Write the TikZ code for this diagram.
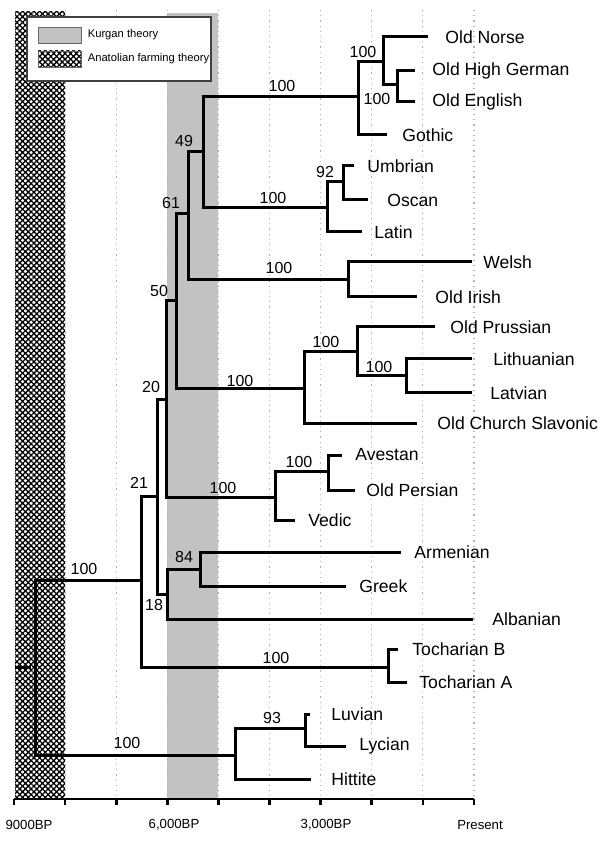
\documentclass[tikz,border=0pt]{standalone}
\usepackage{fontspec}
\setmainfont{Liberation Sans}
\usetikzlibrary{positioning,patterns.meta}
\definecolor{kurgan}{gray}{0.76}
\tikzset{
  branch/.style={line width=1.5pt},
  leaf/.style={font=\fontsize{8.8}{10}\selectfont, inner sep=0pt},
  boot/.style={font=\fontsize{8}{9}\selectfont, inner sep=0pt},
  ticklab/.style={font=\fontsize{6.6}{8}\selectfont, inner sep=0pt},
  legtext/.style={font=\fontsize{5.6}{7}\selectfont, inner sep=0pt},
  swatch/.style={draw=black!60, line width=0.4pt, minimum width=21.5pt, minimum height=8pt, inner sep=0pt},
  anatolian/.style={pattern={Hatch[angle=45,distance=2pt,line width=0.65pt]}},
  grid/.style={gray!60, dotted, line width=0.6pt},
  axis/.style={line width=1.3pt}
}

\begin{document}
\begin{tikzpicture}[x=0.5pt, y=-0.5pt]
  \useasboundingbox (0,0) rectangle (605,854);
  % time bands
  \fill[kurgan] (167,13) rectangle (218,799);
  \foreach \k in {1,...,9}
    \draw[grid] ({14+51.11*\k},10) -- ({14+51.11*\k},799);
  \fill[anatolian] (15,12) rectangle (65,799);
  % legend
  \draw[fill=white, draw=black!75, line width=0.75pt] (27,17) rectangle (211,81);
  \node[swatch, fill=kurgan] (kswatch) at (59.5,35) {};
  \node[legtext, right=3pt of kswatch] (ktext) {Kurgan theory};
  \node[swatch, anatolian] (aswatch) at (59.5,59) {};
  \node[legtext, right=3pt of aswatch] (atext) {Anatolian farming theory};
  % time axis
  \draw[axis] (14,799) -- (474,799);
  \foreach \k in {0,...,9}
    \draw[axis] ({14+51.11*\k},799) -- ({14+51.11*\k},805);
  \node[ticklab] (t9000) at (29,825) {9000BP};
  \node[ticklab] (t6000) at (174,825) {6,000BP};
  \node[ticklab] (t3000) at (326,825) {3,000BP};
  \node[ticklab] (t0) at (480,825) {Present};

  % internal nodes
  \coordinate (rootstub) at (15,667);
  \coordinate (rootgap) at (31,667);
  \coordinate (root) at (35,667);
  \coordinate (pie) at (141,580);
  \coordinate (anat) at (235,755);
  \coordinate (luvlyc) at (305,728);
  \coordinate (toch) at (388,667);
  \coordinate (n21) at (157,496);
  \coordinate (n18) at (167,594);
  \coordinate (n84) at (200,569);
  \coordinate (n20) at (166,400);
  \coordinate (indoir) at (275,497);
  \coordinate (avop) at (328,471);
  \coordinate (n50) at (176,301);
  \coordinate (balsla) at (304,389);
  \coordinate (bal) at (357,352);
  \coordinate (litlat) at (406,376);
  \coordinate (n61) at (188,214);
  \coordinate (celtic) at (348,280);
  \coordinate (n49) at (203,152);
  \coordinate (germ) at (358,97);
  \coordinate (nwg) at (383,62);
  \coordinate (wg) at (397,85);
  \coordinate (ital) at (327,208);
  \coordinate (umbosc) at (343,182);

  % leaves
  \coordinate (eNorse) at (428,37);
  \node[leaf, right=8.5pt of eNorse] (Norse) {Old Norse};
  \coordinate (eOHG) at (415,71);
  \node[leaf, right=8.5pt of eOHG] (OHG) {Old High German};
  \coordinate (eOE) at (415,102);
  \node[leaf, right=8.5pt of eOE] (OE) {Old English};
  \coordinate (eGothic) at (387,135);
  \node[leaf, right=7.5pt of eGothic] (Gothic) {Gothic};
  \coordinate (eUmbrian) at (354,166);
  \node[leaf, right=6.5pt of eUmbrian] (Umbrian) {Umbrian};
  \coordinate (eOscan) at (368,200);
  \node[leaf, right=9.5pt of eOscan] (Oscan) {Oscan};
  \coordinate (eLatin) at (362,232);
  \node[leaf, right=6pt of eLatin] (Latin) {Latin};
  \coordinate (eWelsh) at (472,262);
  \node[leaf, right=5.5pt of eWelsh] (Welsh) {Welsh};
  \coordinate (eIrish) at (417,297);
  \node[leaf, right=9pt of eIrish] (Irish) {Old Irish};
  \coordinate (ePrussian) at (435,327);
  \node[leaf, right=7.5pt of ePrussian] (Prussian) {Old Prussian};
  \coordinate (eLith) at (472,359);
  \node[leaf, right=10.5pt of eLith] (Lith) {Lithuanian};
  \coordinate (eLatv) at (472,393);
  \node[leaf, right=9pt of eLatv] (Latv) {Latvian};
  \coordinate (eOCS) at (417,423);
  \node[leaf, right=10pt of eOCS] (OCS) {Old Church Slavonic};
  \coordinate (eAvestan) at (342,455);
  \node[leaf, right=6.5pt of eAvestan] (Avestan) {Avestan};
  \coordinate (ePersian) at (355,490);
  \node[leaf, right=5.5pt of ePersian] (Persian) {Old Persian};
  \coordinate (eVedic) at (295,520);
  \node[leaf, right=6.5pt of eVedic] (Vedic) {Vedic};
  \coordinate (eArmenian) at (401,552);
  \node[leaf, right=6.5pt of eArmenian] (Armenian) {Armenian};
  \coordinate (eGreek) at (346,586);
  \node[leaf, right=6.5pt of eGreek] (Greek) {Greek};
  \coordinate (eAlbanian) at (473,619);
  \node[leaf, right=9.5pt of eAlbanian] (Albanian) {Albanian};
  \coordinate (eTochB) at (398,649);
  \node[leaf, right=7pt of eTochB] (TochB) {Tocharian B};
  \coordinate (eTochA) at (407,682);
  \node[leaf, right=6pt of eTochA] (TochA) {Tocharian A};
  \coordinate (eLuvian) at (310,714);
  \node[leaf, right=10.5pt of eLuvian] (Luvian) {Luvian};
  \coordinate (eLycian) at (346,746);
  \node[leaf, right=6.5pt of eLycian] (Lycian) {Lycian};
  \coordinate (eHittite) at (311,779);
  \node[leaf, right=10pt of eHittite] (Hittite) {Hittite};

  % branches
  \draw[branch] (rootstub) -- (rootgap);
  \draw[branch] (root) |- (pie);
  \draw[branch] (root) |- (anat);
  \draw[branch] (pie) |- (n21);
  \draw[branch] (pie) |- (toch);
  \draw[branch] (toch) |- (eTochB);
  \draw[branch] (toch) |- (eTochA);
  \draw[branch] (anat) |- (luvlyc);
  \draw[branch] (anat) |- (eHittite);
  \draw[branch] (luvlyc) |- (eLuvian);
  \draw[branch] (luvlyc) |- (eLycian);
  \draw[branch] (n21) |- (n20);
  \draw[branch] (n21) |- (n18);
  \draw[branch] (n18) |- (n84);
  \draw[branch] (n18) |- (eAlbanian);
  \draw[branch] (n84) |- (eArmenian);
  \draw[branch] (n84) |- (eGreek);
  \draw[branch] (n20) |- (n50);
  \draw[branch] (n20) |- (indoir);
  \draw[branch] (indoir) |- (avop);
  \draw[branch] (indoir) |- (eVedic);
  \draw[branch] (avop) |- (eAvestan);
  \draw[branch] (avop) |- (ePersian);
  \draw[branch] (n50) |- (n61);
  \draw[branch] (n50) |- (balsla);
  \draw[branch] (balsla) |- (bal);
  \draw[branch] (balsla) |- (eOCS);
  \draw[branch] (bal) |- (ePrussian);
  \draw[branch] (bal) |- (litlat);
  \draw[branch] (litlat) |- (eLith);
  \draw[branch] (litlat) |- (eLatv);
  \draw[branch] (n61) |- (n49);
  \draw[branch] (n61) |- (celtic);
  \draw[branch] (celtic) |- (eWelsh);
  \draw[branch] (celtic) |- (eIrish);
  \draw[branch] (n49) |- (germ);
  \draw[branch] (n49) |- (ital);
  \draw[branch] (germ) |- (nwg);
  \draw[branch] (germ) |- (eGothic);
  \draw[branch] (nwg) |- (eNorse);
  \draw[branch] (nwg) |- (wg);
  \draw[branch] (wg) |- (eOHG);
  \draw[branch] (wg) |- (eOE);
  \draw[branch] (ital) |- (umbosc);
  \draw[branch] (ital) |- (eLatin);
  \draw[branch] (umbosc) |- (eUmbrian);
  \draw[branch] (umbosc) |- (eOscan);

  % support values
  \node[boot] (bGerm) at (282,86) {100};
  \node[boot] (bNwg) at (363,52) {100};
  \node[boot] (bWg) at (377,99) {100};
  \node[boot] (bItal) at (273,198) {100};
  \node[boot] (bUmbosc) at (325,172) {92};
  \node[boot] (b49) at (184,141) {49};
  \node[boot] (b61) at (171,203) {61};
  \node[boot] (bCeltic) at (279,268) {100};
  \node[boot] (b50) at (159,291) {50};
  \node[boot] (bBalsla) at (240,381) {100};
  \node[boot] (bBal) at (326,342) {100};
  \node[boot] (bLitlat) at (379,367) {100};
  \node[boot] (b20) at (151,387) {20};
  \node[boot] (bIndoir) at (223,488) {100};
  \node[boot] (bAvop) at (299,462) {100};
  \node[boot] (b21) at (139,483) {21};
  \node[boot] (b84) at (184,557) {84};
  \node[boot] (b18) at (154,605) {18};
  \node[boot] (bPie) at (84,569) {100};
  \node[boot] (bToch) at (276,658) {100};
  \node[boot] (bAnat) at (127,743) {100};
  \node[boot] (bLuvlyc) at (272,718) {93};
\end{tikzpicture}
\end{document}
